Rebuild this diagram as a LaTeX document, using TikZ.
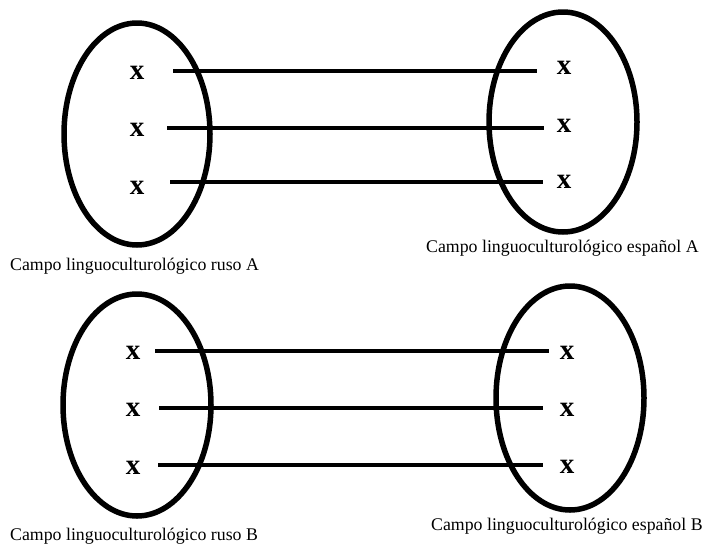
\documentclass[tikz,border=0pt]{standalone}
\usepackage{fontspec}
\setmainfont{Liberation Serif}
\begin{document}
\begin{tikzpicture}[x=1pt,y=-1pt, line join=round,
	campo/.style={line width=5.5pt},
	enlace/.style={line width=4.5pt},
	elem/.style={font=\fontsize{29}{29}\selectfont\bfseries, inner sep=0pt},
	rotulo/.style={font=\fontsize{17.8}{20}\selectfont, anchor=base west, inner sep=0pt}]
	\useasboundingbox (0,0) rectangle (708,543);
	% campos A
	\draw[campo] (137,134) ellipse [x radius=73, y radius=111];
	\draw[campo] (563,122) ellipse [x radius=74, y radius=110];
	\node[elem] (ra1) at (137,73) {x};
	\node[elem] (ra2) at (137,130) {x};
	\node[elem] (ra3) at (137,188) {x};
	\node[elem] (ea1) at (564,68) {x};
	\node[elem] (ea2) at (564,126) {x};
	\node[elem] (ea3) at (564,182) {x};
	\coordinate (pa1) at (173,71); \coordinate (qa1) at (537,71);
	\coordinate (pa2) at (167,128); \coordinate (qa2) at (544,128);
	\coordinate (pa3) at (170,182); \coordinate (qa3) at (543,182);
	\draw[enlace] (pa1)--(qa1);
	\draw[enlace] (pa2)--(qa2);
	\draw[enlace] (pa3)--(qa3);
	\node[rotulo] (tra) at (10,270) {Campo linguoculturológico ruso A};
	\node[rotulo] (tea) at (426,252) {Campo linguoculturológico español A};
	% campos B
	\draw[campo] (137,405) ellipse [x radius=74, y radius=111];
	\draw[campo] (570,398) ellipse [x radius=74, y radius=112];
	\node[elem] (rb1) at (133,353) {x};
	\node[elem] (rb2) at (133,410) {x};
	\node[elem] (rb3) at (133,468) {x};
	\node[elem] (eb1) at (567,353) {x};
	\node[elem] (eb2) at (567,410) {x};
	\node[elem] (eb3) at (567,467) {x};
	\coordinate (pb1) at (155,351); \coordinate (qb1) at (549,351);
	\coordinate (pb2) at (159,408); \coordinate (qb2) at (543,408);
	\coordinate (pb3) at (158,465); \coordinate (qb3) at (543,465);
	\draw[enlace] (pb1)--(qb1);
	\draw[enlace] (pb2)--(qb2);
	\draw[enlace] (pb3)--(qb3);
	\node[rotulo] (trb) at (10,540) {Campo linguoculturológico ruso B};
	\node[rotulo] (teb) at (431,530) {Campo linguoculturológico español B};
\end{tikzpicture}
\end{document}
